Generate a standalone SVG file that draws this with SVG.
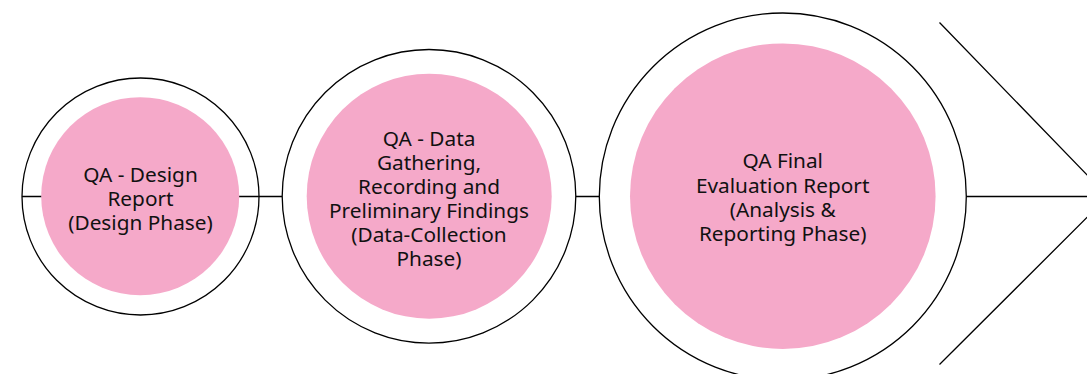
<svg xmlns="http://www.w3.org/2000/svg" width="1087" height="374" viewBox="0 0 1087 374">
<style>
.ring{fill:#ffffff;stroke:#000000;stroke-width:1.3}
.core{fill:#F5A9C9;stroke:none}
.lbl{font-family:"Noto Sans","Open Sans",sans-serif;font-size:20.8px;fill:#111111;text-anchor:middle}
.ln{stroke:#000000;stroke-width:1.3;fill:none}
</style>
<rect width="1087" height="374" fill="#ffffff"/>
<g id="connectors">
<line class="ln" x1="22" y1="196.5" x2="1087" y2="196.5"/>
<polyline class="ln" points="939.5,22.5 1108,196.5 939.5,364.5"/>
</g>
<g id="node1">
<circle class="ring" cx="140.5" cy="196.5" r="118.5"/>
<line class="ln" x1="22" y1="196.5" x2="259" y2="196.5"/>
<circle class="core" cx="140.2" cy="196.2" r="99"/>
<text class="lbl" x="140.5" y="181.7"><tspan x="140.5">QA - Design</tspan><tspan x="140.5" dy="24">Report</tspan><tspan x="140.5" dy="24.3">(Design Phase)</tspan></text>
</g>
<g id="node2">
<circle class="ring" cx="429" cy="196.3" r="146.8"/>
<circle class="core" cx="429.2" cy="196.2" r="122.5"/>
<text class="lbl" x="429" y="145.7"><tspan x="429">QA - Data</tspan><tspan x="429" dy="23.8">Gathering,</tspan><tspan x="429" dy="24">Recording and</tspan><tspan x="429" dy="24.2">Preliminary Findings</tspan><tspan x="429" dy="24.1">(Data-Collection</tspan><tspan x="429" dy="23.7">Phase)</tspan></text>
</g>
<g id="node3">
<circle class="ring" cx="782.8" cy="196.5" r="183.5"/>
<circle class="core" cx="782.8" cy="196.2" r="152.8"/>
<text class="lbl" x="782.7" y="168.3"><tspan x="782.7">QA Final</tspan><tspan x="782.7" dy="24.4">Evaluation Report</tspan><tspan x="782.7" dy="24">(Analysis &amp;</tspan><tspan x="782.7" dy="24">Reporting Phase)</tspan></text>
</g>
</svg>
